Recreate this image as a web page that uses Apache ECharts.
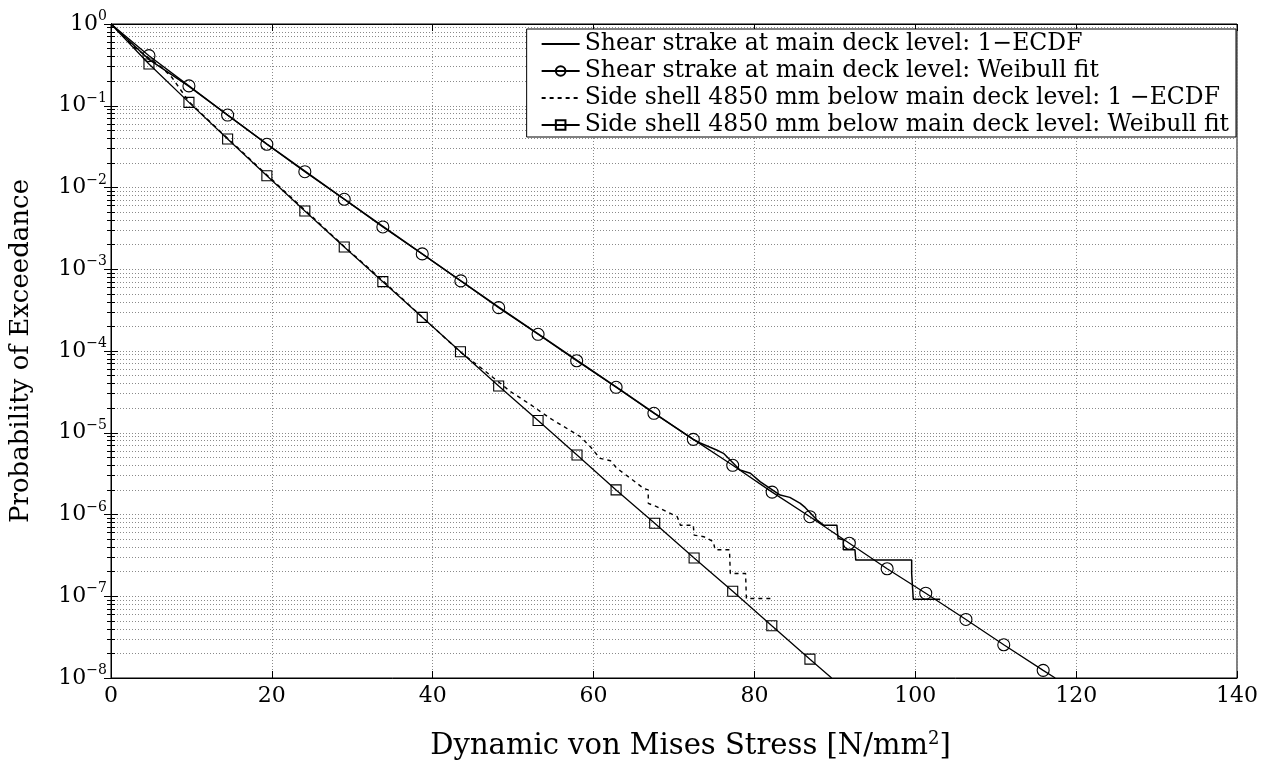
<!DOCTYPE html>
<html>
<head>
<meta charset="utf-8">
<title>Probability of Exceedance</title>
<script src="https://cdn.jsdelivr.net/npm/echarts@6/dist/echarts.min.js"></script>
<style>
html, body { margin: 0; padding: 0; background: #fff; }
#main { width: 1266px; height: 768px; }
</style>
</head>
<body>
<div id="main"></div>
<script>
// tick labels
const xTicks = [0, 20, 40, 60, 80, 100, 120, 140];
const yTicks = [1e-8, 1e-7, 1e-6, 1e-5, 1e-4, 1e-3, 1e-2, 1e-1, 1];

const seriesNames = [
  'Shear strake at main deck level: 1\u2212ECDF',
  'Shear strake at main deck level: Weibull fit',
  'Side shell 4850 mm below main deck level: 1 \u2212ECDF',
  'Side shell 4850 mm below main deck level: Weibull fit'
];

// [stress, probability of exceedance]
const shearEcdf = [
  [0, 1], [4.7, 0.37], [9.7, 0.172], [14.5, 0.077], [19.4, 0.034], [24.2, 0.0156],
  [29.0, 0.0072], [33.9, 0.0033], [38.7, 0.00154], [43.5, 7.2e-4], [48.3, 3.4e-4],
  [53.2, 1.6e-4], [58.0, 7.6e-5], [62.9, 3.6e-5], [67.6, 1.73e-5], [72.4, 8.3e-6],
  [73.25, 7.5e-6], [75.3, 6.15e-6], [76.15, 5.6e-6], [78.2, 3.5e-6], [79.5, 3.2e-6],
  [80.7, 2.52e-6], [81.95, 2.09e-6], [83.2, 1.73e-6], [84.4, 1.62e-6], [85.7, 1.37e-6],
  [86.3, 1.22e-6], [87.75, 8.6e-7], [88.6, 7.4e-7], [90.25, 7.4e-7], [90.4, 5.1e-7],
  [91.05, 4.9e-7], [91.05, 3.7e-7], [92.5, 3.7e-7], [92.6, 2.77e-7], [99.55, 2.77e-7],
  [99.55, 1.9e-7], [99.75, 9.2e-8], [103.1, 9.2e-8]
];
const shearFit = [
  [0, 1], [4.72, 0.41], [9.69, 0.175], [14.5, 0.077], [19.38, 0.0338], [24.1, 0.0156],
  [29.0, 0.00718], [33.8, 0.00329], [38.7, 0.00154], [43.5, 7.2e-4], [48.2, 3.39e-4],
  [53.1, 1.6e-4], [57.9, 7.6e-5], [62.8, 3.6e-5], [67.5, 1.73e-5], [72.4, 8.3e-6],
  [77.3, 4.0e-6], [82.2, 1.88e-6], [86.9, 9.4e-7], [91.8, 4.45e-7], [96.5, 2.17e-7],
  [101.3, 1.09e-7], [106.3, 5.2e-8], [111.0, 2.55e-8], [115.9, 1.24e-8], [117.4, 1e-8]
];
const sideEcdf = [
  [0, 1], [3.0, 0.51], [6.4, 0.29], [7.6, 0.22], [9.7, 0.112], [14.5, 0.040],
  [19.4, 0.0142], [24.2, 0.0052], [29.0, 0.0019], [33.9, 7.1e-4], [38.7, 2.6e-4],
  [43.4, 9.8e-5], [46.3, 5.9e-5], [49.65, 3.2e-5], [52.1, 2.23e-5], [54.6, 1.5e-5],
  [56.3, 1.19e-5], [58.35, 8.95e-6], [59.6, 6.75e-6], [60.8, 4.86e-6], [62.1, 4.55e-6],
  [62.9, 3.67e-6], [64.6, 2.77e-6], [66.2, 2.09e-6], [66.8, 2.0e-6], [66.8, 1.37e-6],
  [67.9, 1.24e-6], [69.1, 1.08e-6], [70.4, 9.4e-7], [70.8, 7.4e-7], [72.4, 7.4e-7],
  [72.5, 5.6e-7], [73.7, 5.35e-7], [74.9, 4.65e-7], [75.1, 3.7e-7], [76.9, 3.7e-7],
  [77.0, 1.9e-7], [78.9, 1.9e-7], [79.0, 9.4e-8], [82.2, 9.4e-8]
];
const sideFit = [
  [0, 1], [4.72, 0.324], [9.69, 0.110], [14.5, 0.0392], [19.38, 0.0139], [24.1, 0.00516],
  [29.0, 0.00187], [33.8, 7.05e-4], [38.7, 2.58e-4], [43.45, 9.8e-5], [48.2, 3.73e-5],
  [53.1, 1.41e-5], [57.94, 5.35e-6], [62.8, 2.0e-6], [67.6, 7.8e-7], [72.5, 2.94e-7],
  [77.3, 1.15e-7], [82.16, 4.36e-8], [86.9, 1.7e-8], [89.6, 1e-8]
];

const FONT = '"DejaVu Serif", "Liberation Serif", serif';
const gridLine = { color: '#8a8a8a', width: 1, type: [1, 2] };

// end points of the fit curves carry no marker
function fitData(arr) {
  return arr.map((p, i) => (i === 0 || i === arr.length - 1) ? { value: p, symbol: 'none' } : p);
}

function powLabel(v) {
  const e = Math.round(Math.log10(v));
  return '{b|10}{s|' + (e < 0 ? '\u2212' + (-e) : e) + '}';
}

const yRich = {
  b: { fontSize: 22, fontFamily: FONT, color: '#000' },
  s: { fontSize: 14, fontFamily: FONT, color: '#000', padding: [0, 0, 15, 0] }
};

const option = {
  backgroundColor: '#fff',
  animation: false,
  grid: {
    left: 110, right: 29, top: 24, bottom: 90,
    show: true, borderColor: '#000', borderWidth: 1
  },
  legend: {
    right: 30, top: 29,
    orient: 'vertical',
    align: 'left',
    backgroundColor: '#fff',
    borderColor: '#000',
    borderWidth: 1,
    borderRadius: 0,
    padding: [3, 7, 0, 14],
    itemWidth: 38,
    itemHeight: 12,
    itemGap: 3,
    textStyle: { fontFamily: FONT, fontSize: 23.5, color: '#000', lineHeight: 21 },
    data: seriesNames
  },
  xAxis: [
    {
      type: 'value',
      min: xTicks[0], max: xTicks[xTicks.length - 1], interval: xTicks[1] - xTicks[0],
      name: '{t|Dynamic von Mises Stress [N/mm}{s|2}{t|]}',
      nameLocation: 'middle',
      nameGap: 52,
      nameTextStyle: {
        padding: [0, 0, 0, 33],
        rich: {
          t: { fontSize: 29, fontFamily: FONT, color: '#000' },
          s: { fontSize: 18, fontFamily: FONT, color: '#000', padding: [0, 0, 15, 0] }
        }
      },
      axisLine: { show: true, lineStyle: { color: '#000' } },
      axisTick: { inside: true, length: 7, lineStyle: { color: '#000' } },
      axisLabel: { fontFamily: FONT, fontSize: 22, color: '#000', margin: 7 },
      splitLine: { show: true, lineStyle: gridLine }
    },
    {
      type: 'value', position: 'top',
      min: xTicks[0], max: xTicks[xTicks.length - 1], interval: xTicks[1] - xTicks[0],
      axisLine: { show: true, lineStyle: { color: '#000' } },
      axisTick: { inside: true, length: 7, lineStyle: { color: '#000' } },
      axisLabel: { show: false },
      splitLine: { show: false }
    }
  ],
  yAxis: [
    {
      type: 'log', logBase: 10,
      min: yTicks[0], max: yTicks[yTicks.length - 1], interval: 1,
      name: 'Probability of Exceedance',
      nameLocation: 'middle',
      nameGap: 77,
      nameTextStyle: { fontSize: 26, fontFamily: FONT, color: '#000' },
      axisLine: { show: true, lineStyle: { color: '#000' } },
      axisTick: { inside: true, length: 7, lineStyle: { color: '#000' } },
      minorTick: { show: true, splitNumber: 9, length: 4, lineStyle: { color: '#000' } },
      axisLabel: { formatter: powLabel, rich: yRich, margin: 4 },
      splitLine: { show: true, lineStyle: gridLine },
      minorSplitLine: { show: true, lineStyle: gridLine }
    },
    {
      type: 'log', logBase: 10, position: 'right',
      min: yTicks[0], max: yTicks[yTicks.length - 1], interval: 1,
      axisLine: { show: true, lineStyle: { color: '#000' } },
      axisTick: { inside: true, length: 7, lineStyle: { color: '#000' } },
      minorTick: { show: true, splitNumber: 9, length: 4, lineStyle: { color: '#000' } },
      axisLabel: { show: false },
      splitLine: { show: false }
    }
  ],
  series: [
    {
      name: seriesNames[0], type: 'line', data: shearEcdf,
      symbol: 'none', lineStyle: { color: '#000', width: 1.5 },
      itemStyle: { color: 'rgba(0,0,0,0)', borderWidth: 0 }, z: 3
    },
    {
      name: seriesNames[1], type: 'line', data: fitData(shearFit),
      symbol: 'circle', symbolSize: 12, showAllSymbol: true,
      lineStyle: { color: '#000', width: 1.3 },
      itemStyle: { color: 'rgba(0,0,0,0)', borderColor: '#000', borderWidth: 1.1 }, z: 4
    },
    {
      name: seriesNames[2], type: 'line', data: sideEcdf,
      symbol: 'none', lineStyle: { color: '#000', width: 1.4, type: [4, 4] },
      itemStyle: { color: 'rgba(0,0,0,0)', borderWidth: 0 }, z: 3
    },
    {
      name: seriesNames[3], type: 'line', data: fitData(sideFit),
      symbol: 'rect', symbolSize: 10, showAllSymbol: true,
      lineStyle: { color: '#000', width: 1.3 },
      itemStyle: { color: 'rgba(0,0,0,0)', borderColor: '#000', borderWidth: 1.1 }, z: 4
    }
  ]
};

const myChart = echarts.init(document.getElementById('main'));
myChart.setOption(option);
</script>
</body>
</html>
